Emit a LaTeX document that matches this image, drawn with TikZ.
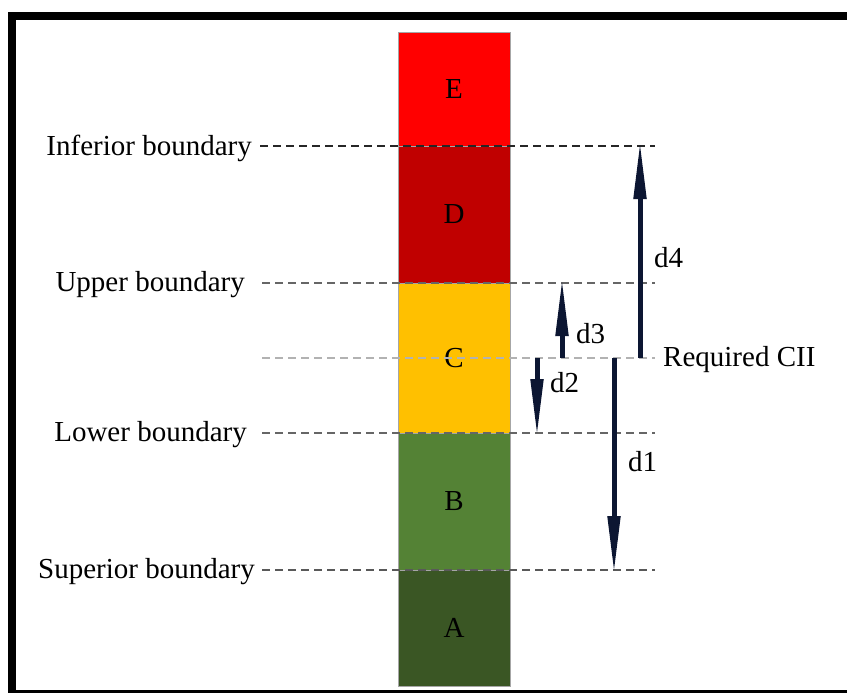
\documentclass[tikz,border=0pt]{standalone}
\usepackage{fontspec}
\setmainfont{Liberation Serif}
\usetikzlibrary{arrows.meta}
\definecolor{bandE}{RGB}{255,0,0}
\definecolor{bandD}{RGB}{192,0,0}
\definecolor{bandC}{RGB}{255,192,0}
\definecolor{bandB}{RGB}{84,130,53}
\definecolor{bandA}{RGB}{58,86,36}
\definecolor{arrowink}{RGB}{12,22,50}
\tikzset{
  band/.style={draw=gray!70, line width=0.8, minimum width=112, inner sep=0, font=\fontsize{29}{34}\selectfont},
  label/.style={inner sep=0, font=\fontsize{29}{34}\selectfont},
  limit/.style={line width=1.6, dash pattern=on 8pt off 5pt},
  gap/.style={line width=5, arrowink, -{Triangle[length=58pt,width=12pt]}}
}
\begin{document}
\begin{tikzpicture}[x=1pt, y=-1pt]
\useasboundingbox (0,0) rectangle (847,693);
% frame
\fill[black] (8,12) rectangle (847,20);
\fill[black] (8,12) rectangle (16,693);
\fill[black] (16,690) rectangle (847,693);
% category bands
\node[band, fill=bandE, minimum height=114] (E) at (454,89) {E};
\node[band, fill=bandD, minimum height=137] (D) at (454,214.5) {D};
\node[band, fill=bandC, minimum height=150] (C) at (454,358) {C};
\node[band, fill=bandB, minimum height=137] (B) at (454,501.5) {B};
\node[band, fill=bandA, minimum height=116] (A) at (454,628) {A};
% boundary labels and their dashed limits
\node[label, anchor=east] (inf) at (252,148) {Inferior boundary};
\node[label, anchor=east] (upp) at (245,285) {Upper boundary};
\node[label, anchor=east] (low) at (247,435) {Lower boundary};
\node[label, anchor=east] (sup) at (255,572) {Superior boundary};
\node[label, anchor=west] (cii) at (663,360) {Required CII};
\coordinate (infL) at (260,146); \coordinate (infR) at (655,146);
\coordinate (uppL) at (262,283); \coordinate (uppR) at (655,283);
\coordinate (lowL) at (262,433); \coordinate (lowR) at (655,433);
\coordinate (supL) at (262,570); \coordinate (supR) at (655,570);
\coordinate (ciiL) at (262,358); \coordinate (ciiR) at (655,358);
\draw[limit, black!85] (infL) -- (infR);
\draw[limit, black!60] (uppL) -- (uppR);
\draw[limit, black!60] (lowL) -- (lowR);
\draw[limit, black!65] (supL) -- (supR);
\draw[limit, black!30] (ciiL) -- (ciiR);
% distances from the required CII
\coordinate (d1s) at (614,358); \coordinate (d1e) at (614,574);
\coordinate (d2s) at (537,358); \coordinate (d2e) at (537,437);
\coordinate (d3s) at (562,358); \coordinate (d3e) at (562,278);
\coordinate (d4s) at (640,358); \coordinate (d4e) at (640,141);
\draw[gap] (d1s) -- (d1e);
\draw[gap] (d2s) -- (d2e);
\draw[gap] (d3s) -- (d3e);
\draw[gap] (d4s) -- (d4e);
\node[label, anchor=west] (d1) at (628,462) {d1};
\node[label, anchor=west] (d2) at (550,383) {d2};
\node[label, anchor=west] (d3) at (576,334) {d3};
\node[label, anchor=west] (d4) at (654,258) {d4};
\end{tikzpicture}
\end{document}
